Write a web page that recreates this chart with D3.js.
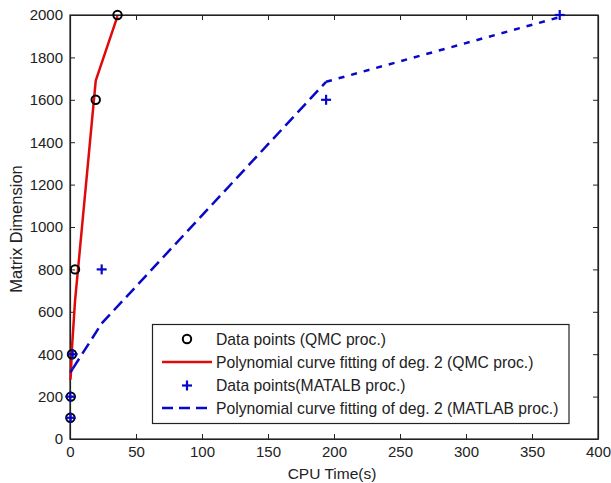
<!DOCTYPE html>
<html>
<head>
<meta charset="utf-8">
<script src="https://cdn.jsdelivr.net/npm/d3@7"></script>
<style>
  html, body { margin: 0; padding: 0; background: #fff; }
  svg { display: block; font-family: "Liberation Sans", Arial, sans-serif; }
</style>
</head>
<body>
<svg id="chart" width="611" height="483"></svg>
<script>
// ---- data ----
const qmcTime = [0.3, 0.6, 1.5, 3.8, 19.5, 36];
const qmcDim = [100, 200, 400, 800, 1600, 2000];
const qmcFit = [280, 300, 430, 650, 1690, 1995];

const matTime = [0.5, 0.2, 2, 24, 194, 371];
const matDim = [100, 200, 400, 800, 1600, 2000];
const matFitTime = [0.2, 0.5, 2, 24, 194, 371];
const matFit = [314, 316, 331, 545, 1685, 1990];

const xTicks = [0, 50, 100, 150, 200, 250, 300, 350, 400];
const yTicks = [0, 200, 400, 600, 800, 1000, 1200, 1400, 1600, 1800, 2000];

const legendLabels = [
  "Data points (QMC proc.)",
  "Polynomial curve fitting of deg. 2 (QMC proc.)",
  "Data points(MATALB proc.)",
  "Polynomial curve fitting of deg. 2 (MATLAB proc.)"
];

// ---- layout ----
const L = 70, R = 598, T = 15, B = 439;
const red = "#e00a0a", blue = "#0808c8", axisCol = "#222";

const svg = d3.select("#chart");
const x = d3.scaleLinear().domain([0, 400]).range([L, R]);
const y = d3.scaleLinear().domain([0, 2000]).range([B, T]);

// axes (inward ticks on all four sides)
const fontSize = 15;
const fmt = d3.format("d");
const xb = svg.append("g").attr("transform", `translate(0,${B})`)
  .call(d3.axisBottom(x).tickValues(xTicks).tickFormat(fmt).tickSizeInner(-5).tickSizeOuter(0).tickPadding(7.5));
const xt = svg.append("g").attr("transform", `translate(0,${T})`)
  .call(d3.axisTop(x).tickValues(xTicks).tickSizeInner(-5).tickSizeOuter(0).tickFormat(""));
const yl = svg.append("g").attr("transform", `translate(${L},0)`)
  .call(d3.axisLeft(y).tickValues(yTicks).tickFormat(fmt).tickSizeInner(-5).tickSizeOuter(0).tickPadding(7));
const yr = svg.append("g").attr("transform", `translate(${R},0)`)
  .call(d3.axisRight(y).tickValues(yTicks).tickSizeInner(-5).tickSizeOuter(0).tickFormat(""));
[xb, xt, yl, yr].forEach(g => {
  g.selectAll("path.domain").attr("stroke", axisCol).attr("stroke-width", 1.2);
  g.selectAll(".tick line").attr("stroke", axisCol).attr("stroke-width", 1);
  g.selectAll(".tick text").attr("fill", axisCol).attr("font-size", fontSize)
    .attr("font-family", "Liberation Sans, Arial, sans-serif");
});
svg.append("rect").attr("x", L).attr("y", T).attr("width", R - L).attr("height", B - T)
  .attr("fill", "none").attr("stroke", axisCol).attr("stroke-width", 1.2);

// axis labels
svg.append("text").attr("x", 332).attr("y", 478.5).attr("text-anchor", "middle")
  .attr("font-size", 15.5).attr("fill", axisCol).text("CPU Time(s)");
svg.append("text").attr("transform", `translate(21.5,229) rotate(-90)`)
  .attr("text-anchor", "middle").attr("font-size", 16.5).attr("fill", axisCol).text("Matrix Dimension");

// ---- red fit line ----
const line = d3.line().x(d => x(d[0])).y(d => y(d[1]));
const qFitPts = qmcTime.map((t, i) => [t, qmcFit[i]]);
svg.append("path").datum(qFitPts).attr("d", line)
  .attr("fill", "none").attr("stroke", red).attr("stroke-width", 2.5).attr("stroke-linejoin", "round");

// ---- blue fit dashed line (segment by segment) ----
const mFitPts = matFitTime.map((t, i) => [t, matFit[i]]);
for (let i = 0; i < mFitPts.length - 1; i++) {
  const seg = [mFitPts[i], mFitPts[i + 1]];
  const isLast = i === mFitPts.length - 2;
  svg.append("path").datum(seg).attr("d", line)
    .attr("fill", "none").attr("stroke", blue).attr("stroke-width", 2.5)
    .attr("stroke-dasharray", isLast ? "6,7" : "12,6");
}

// ---- markers ----
svg.append("g").selectAll("circle").data(qmcTime.map((t, i) => [t, qmcDim[i]])).join("circle")
  .attr("cx", d => x(d[0])).attr("cy", d => y(d[1])).attr("r", 4.2)
  .attr("fill", "none").attr("stroke", "#000").attr("stroke-width", 2);

const plus = (g, cx, cy, s) => {
  g.append("line").attr("x1", cx - s).attr("x2", cx + s).attr("y1", cy).attr("y2", cy);
  g.append("line").attr("x1", cx).attr("x2", cx).attr("y1", cy - s).attr("y2", cy + s);
};
const pg = svg.append("g").attr("stroke", blue).attr("stroke-width", 2.2);
matTime.forEach((t, i) => plus(pg, x(t), y(matDim[i]), 5));

// ---- legend ----
const lg = svg.append("g");
lg.append("rect").attr("x", 152.5).attr("y", 324.5).attr("width", 416.5).attr("height", 99)
  .attr("fill", "#fff").attr("stroke", axisCol).attr("stroke-width", 1.2);
const rowY = [339, 362, 385.5, 408];
const lx1 = 162, lx2 = 212, mx = 187, tx = 216;
legendLabels.forEach((lab, i) => {
  const cy = rowY[i];
  if (i === 0) {
    lg.append("circle").attr("cx", mx).attr("cy", cy).attr("r", 4.2)
      .attr("fill", "none").attr("stroke", "#000").attr("stroke-width", 2);
  } else if (i === 1) {
    lg.append("line").attr("x1", lx1).attr("x2", lx2).attr("y1", cy).attr("y2", cy)
      .attr("stroke", red).attr("stroke-width", 2.5);
  } else if (i === 2) {
    const g = lg.append("g").attr("stroke", blue).attr("stroke-width", 2.2);
    plus(g, mx, cy, 5);
  } else {
    lg.append("line").attr("x1", lx1).attr("x2", lx2).attr("y1", cy).attr("y2", cy)
      .attr("stroke", blue).attr("stroke-width", 2.5).attr("stroke-dasharray", "11,6");
  }
  lg.append("text").attr("x", tx).attr("y", cy).attr("dy", "0.36em")
    .attr("font-size", 15.7).attr("fill", axisCol).text(lab);
});
</script>
</body>
</html>
